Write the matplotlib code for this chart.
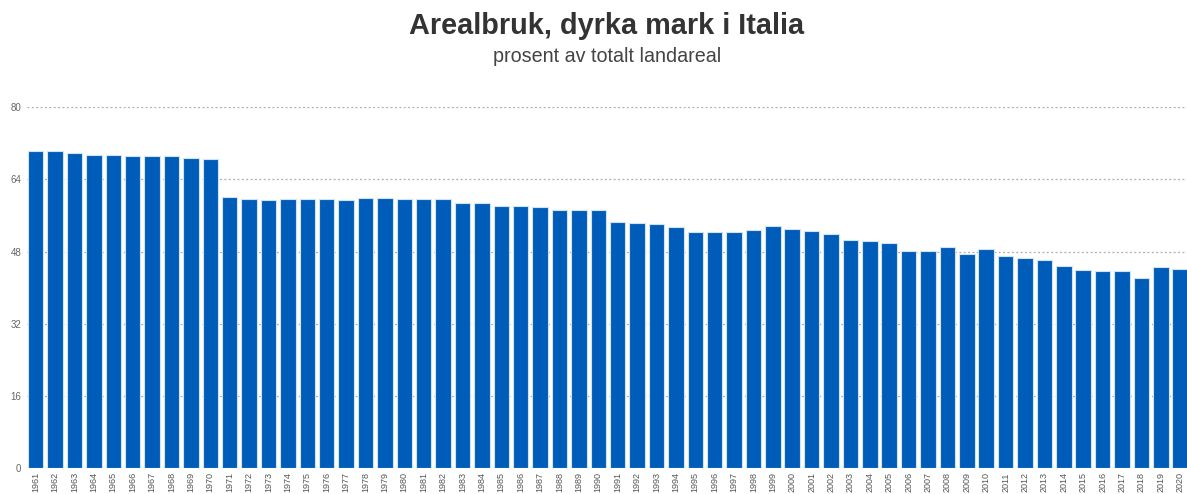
import numpy as np
import matplotlib
matplotlib.use("Agg")
import matplotlib.pyplot as plt

plt.rcParams['font.family'] = ['Liberation Sans', 'DejaVu Sans']

years = list(range(1961, 2021))
values = [70.3, 70.2, 69.8, 69.5, 69.5, 69.3, 69.25, 69.2, 68.8, 68.6,
          60.0, 59.6, 59.5, 59.6, 59.6, 59.6, 59.5, 59.8, 59.8, 59.7,
          59.7, 59.7, 58.7, 58.7, 58.2, 58.0, 57.8, 57.3, 57.3, 57.3,
          54.6, 54.4, 54.2, 53.4, 52.25, 52.25, 52.25, 52.8, 53.7, 53.0,
          52.5, 51.8, 50.5, 50.4, 50.0, 48.1, 48.05, 49.0, 47.4, 48.6,
          47.0, 46.6, 46.2, 44.7, 43.9, 43.6, 43.6, 42.2, 44.5, 44.2]
yticks = [0, 16, 32, 48, 64, 80]

fig = plt.figure(figsize=(11.87, 4.94), dpi=100)
ax = fig.add_axes([27 / 1187, 26 / 494, 1160 / 1187, (468 - 107.3) / 494])

x = np.arange(len(years))
ax.bar(x, values, width=0.8, color="#005cb9", edgecolor="#cfe3f5", linewidth=0.8, zorder=2)

ax.set_xlim(-0.45, 59.35)
ax.set_ylim(0, 80)
ax.set_yticks(yticks)
ax.set_yticklabels([str(t) for t in yticks], fontsize=7, color="#666666")
ax.set_xticks(x)
ax.set_xticklabels([str(y) for y in years], rotation=90, fontsize=6.5, color="#555555")
ax.tick_params(axis="both", length=0, pad=4)
ax.tick_params(axis="x", pad=3)
ax.grid(axis="y", color="#aaaaaa", linestyle=(0, (1.5, 2)), linewidth=0.9, zorder=0)
for s in ax.spines.values():
    s.set_visible(False)

fig.text(607 / 1187, 1 - 26 / 494, "Arealbruk, dyrka mark i Italia", ha="center", va="center",
         fontsize=20.8, fontweight="bold", color="#333333")
fig.text(607 / 1187, 1 - 57 / 494, "prosent av totalt landareal", ha="center", va="center",
         fontsize=14.2, color="#444444")

fig.savefig("out.png", dpi=100)
